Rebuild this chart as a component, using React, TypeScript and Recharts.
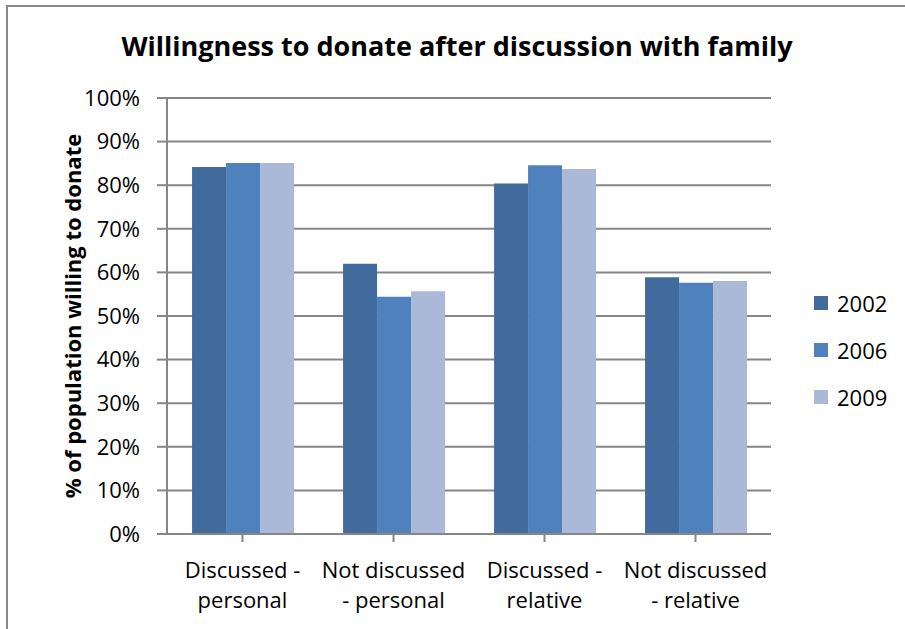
import React from "react";
import { BarChart, Bar, XAxis, YAxis, CartesianGrid, Legend } from "recharts";

const categories = ["Discussed -\npersonal", "Not discussed\n- personal", "Discussed -\nrelative", "Not discussed\n- relative"];
const v2002 = [84.2, 62.0, 80.4, 58.9];
const v2006 = [85.1, 54.4, 84.6, 57.6];
const v2009 = [85.1, 55.7, 83.7, 58.0];
const yTicks = [0, 10, 20, 30, 40, 50, 60, 70, 80, 90, 100];
const seriesNames = ["2002", "2006", "2009"];
const seriesColors = ["#416B9C", "#4F81BD", "#AAB9D7"];

const data = categories.map((c, i) => ({
  cat: c,
  s2002: v2002[i],
  s2006: v2006[i],
  s2009: v2009[i],
}));

const FONT = "'Open Sans', 'Noto Sans', sans-serif";

const XTick = (props: any) => {
  const { x, y, payload } = props;
  const lines = String(payload.value).split("\n");
  return (
    <text x={x} y={y} textAnchor="middle" fontFamily={FONT} fontSize={22} fill="#000">
      {lines.map((l: string, i: number) => (
        <tspan key={i} x={x} dy={i === 0 ? 34 : 30}>
          {l}
        </tspan>
      ))}
    </text>
  );
};

const YLabel = (props: any) => {
  const vb = props.viewBox || {};
  const cy = vb.y + vb.height / 2;
  const cx = 72;
  return (
    <text
      x={cx}
      y={cy}
      transform={`rotate(-90, ${cx}, ${cy})`}
      textAnchor="middle"
      dominantBaseline="central"
      fontFamily={FONT}
      fontWeight="bold"
      fontSize={22}
      fill="#000"
    >
      % of population  willing to donate
    </text>
  );
};

const LegendContent = () => (
  <div style={{ fontFamily: FONT, fontSize: 22, color: "#000" }}>
    {seriesNames.map((n, i) => (
      <div key={n} style={{ display: "flex", alignItems: "center", height: 47 }}>
        <div style={{ width: 14, height: 14, background: seriesColors[i], marginRight: 9 }} />
        <span>{n}</span>
      </div>
    ))}
  </div>
);

export default function App() {
  return (
    <div style={{ position: "absolute", left: 0, top: 0, width: 905, height: 629, background: "#fff", overflow: "hidden" }}>
      <div
        style={{
          position: "absolute",
          left: 6,
          top: 5,
          width: 1000,
          height: 1000,
          borderTop: "2px solid #898989",
          borderLeft: "2px solid #898989",
        }}
      />
      <div
        style={{
          position: "absolute",
          left: 0,
          width: 914,
          top: 28,
          textAlign: "center",
          fontFamily: FONT,
          fontWeight: "bold",
          fontSize: 27,
          lineHeight: "36px",
          color: "#000",
        }}
      >
        Willingness to donate after discussion with family
      </div>
      <div style={{ position: "absolute", left: 0, top: 0 }}>
        <BarChart
          width={905}
          height={629}
          data={data}
          margin={{ top: 98, right: 134, bottom: 0, left: 0 }}
          barCategoryGap="16.6%"
          barGap={0}
        >
          <CartesianGrid vertical={false} stroke="#868686" strokeWidth={2} />
          <XAxis
            dataKey="cat"
            axisLine={{ stroke: "#868686", strokeWidth: 2 }}
            tickLine={{ stroke: "#868686", strokeWidth: 2 }}
            tickSize={8}
            tick={<XTick />}
            interval={0}
            height={95}
          />
          <YAxis
            width={167}
            domain={[0, 100]}
            ticks={yTicks}
            interval={0}
            tickFormatter={(v: number) => `${v}%`}
            axisLine={{ stroke: "#868686", strokeWidth: 2 }}
            tickLine={{ stroke: "#868686", strokeWidth: 2 }}
            tickSize={10}
            tickMargin={17}
            tick={{ fontFamily: FONT, fontSize: 22, fill: "#000" }}
            label={<YLabel />}
          />
          <Legend
            layout="horizontal"
            verticalAlign="middle"
            align="center"
            content={<LegendContent />}
            wrapperStyle={{ position: "absolute", left: 814, top: 279, width: 90, height: 141 }}
          />
          {seriesNames.map((n, i) => (
            <Bar key={n} dataKey={`s${n}`} name={n} fill={seriesColors[i]} isAnimationActive={false} />
          ))}
        </BarChart>
      </div>
    </div>
  );
}
